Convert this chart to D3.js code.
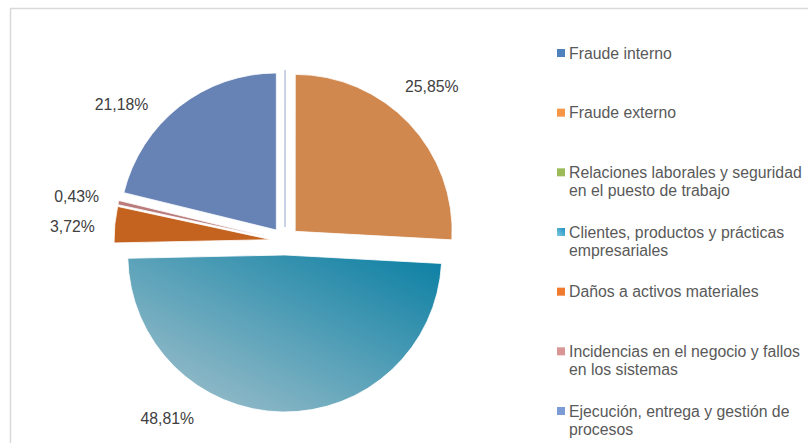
<!DOCTYPE html>
<html>
<head>
<meta charset="utf-8">
<script src="https://cdn.jsdelivr.net/npm/d3@7"></script>
<style>
  html, body { margin: 0; padding: 0; background: #fff; }
  svg { display: block; font-family: "Liberation Sans", Arial, sans-serif; }
</style>
</head>
<body>
<svg id="chart" width="808" height="443"></svg>
<script>
// categories and values (percent)
var categories = [
    "Fraude interno",
    "Fraude externo",
    "Relaciones laborales y seguridad|en el puesto de trabajo",
    "Clientes, productos y prácticas|empresariales",
    "Daños a activos materiales",
    "Incidencias en el negocio y fallos|en los sistemas",
    "Ejecución, entrega y gestión de|procesos"
];
var values = [0.01, 25.85, 0, 48.81, 3.72, 0.43, 21.18];
var valueLabels = ["", "25,85%", "", "48,81%", "3,72%", "0,43%", "21,18%"];

// slice fills (shaded) and legend swatches
var sliceColors  = ["#c9d2e6", "#d0884f", "#9bbb59", "url(#gradClientes)", "#c4621f", "#b97b7b", "#6783b5"];
var legendColors = ["#4f81bd", "#f79646", "#9bbb59", "url(#gradLegend)", "#f07a2e", "#d99694", "#7c9bd5"];

// label placement nudges (degrees) where Excel moved the labels
var labelNudge = [0, -3, 0, 32.6, -1.7, -1, -12];

var svg = d3.select("#chart");
var defs = svg.append("defs");

var g1 = defs.append("linearGradient").attr("id", "gradClientes")
    .attr("x1", "100%").attr("y1", "0%").attr("x2", "0%").attr("y2", "100%");
g1.append("stop").attr("offset", "0%").attr("stop-color", "#0a7fa3");
g1.append("stop").attr("offset", "100%").attr("stop-color", "#a9c4ce");

var g2 = defs.append("linearGradient").attr("id", "gradLegend")
    .attr("x1", "100%").attr("y1", "0%").attr("x2", "0%").attr("y2", "100%");
g2.append("stop").attr("offset", "0%").attr("stop-color", "#1f8fc4");
g2.append("stop").attr("offset", "100%").attr("stop-color", "#7fcbe0");

// chart frame
svg.append("rect")
    .attr("x", 10.5).attr("y", 8.5)
    .attr("width", 820).attr("height", 460)
    .attr("fill", "none")
    .attr("stroke", "#d9d9d9")
    .attr("stroke-width", 1.5);

var cx = 285, cy = 241, radius = 157, explode = 14, labelRadius = 213;
var fontSize = 15.8;

var pie = d3.pie().sort(null).value(function(d) { return d; });
var arcs = pie(values);
var arc = d3.arc().innerRadius(0).outerRadius(radius);

var pieG = svg.append("g").attr("transform", "translate(" + cx + "," + cy + ")");

pieG.selectAll("path.slice")
    .data(arcs)
    .enter().append("path")
      .attr("class", "slice")
      .attr("d", arc)
      .attr("transform", function(d) {
          var a = (d.startAngle + d.endAngle) / 2;
          return "translate(" + (Math.sin(a) * explode) + "," + (-Math.cos(a) * explode) + ")";
      })
      .attr("fill", function(d, i) { return sliceColors[i]; })
      .attr("stroke", function(d, i) { return i === 0 ? "#b8c4de" : "#ffffff"; })
      .attr("stroke-width", function(d, i) { return i === 0 ? 1 : 0.8; })
      .style("display", function(d) { return d.value > 0 ? null : "none"; });

// data labels
pieG.selectAll("text.val")
    .data(arcs.filter(function(d, i) { return valueLabels[i] !== ""; }))
    .enter().append("text")
      .attr("class", "val")
      .attr("x", function(d) {
          var a = (d.startAngle + d.endAngle) / 2 + labelNudge[d.index] * Math.PI / 180;
          return Math.sin(a) * labelRadius;
      })
      .attr("y", function(d) {
          var a = (d.startAngle + d.endAngle) / 2 + labelNudge[d.index] * Math.PI / 180;
          return -Math.cos(a) * labelRadius;
      })
      .attr("dy", "0.35em")
      .attr("text-anchor", "middle")
      .attr("font-size", fontSize)
      .attr("fill", "#404040")
      .text(function(d) { return valueLabels[d.index]; });

// legend
var legendY = d3.scalePoint().domain(d3.range(categories.length)).range([53, 411]);
var legend = svg.append("g");
var item = legend.selectAll("g.item")
    .data(categories)
    .enter().append("g")
      .attr("class", "item")
      .attr("transform", function(d, i) { return "translate(557," + legendY(i) + ")"; });

item.append("rect")
    .attr("x", 0).attr("y", -4)
    .attr("width", 8).attr("height", 8)
    .attr("fill", function(d, i) { return legendColors[i]; });

item.append("text")
    .attr("x", 12)
    .attr("y", 0)
    .attr("font-size", fontSize)
    .attr("fill", "#595959")
    .each(function(d) {
        var lines = d.split("|");
        var t = d3.select(this);
        lines.forEach(function(l, j) {
            t.append("tspan").attr("x", 12).attr("dy", j === 0 ? "0.35em" : 18).text(l);
        });
    });
</script>
</body>
</html>
